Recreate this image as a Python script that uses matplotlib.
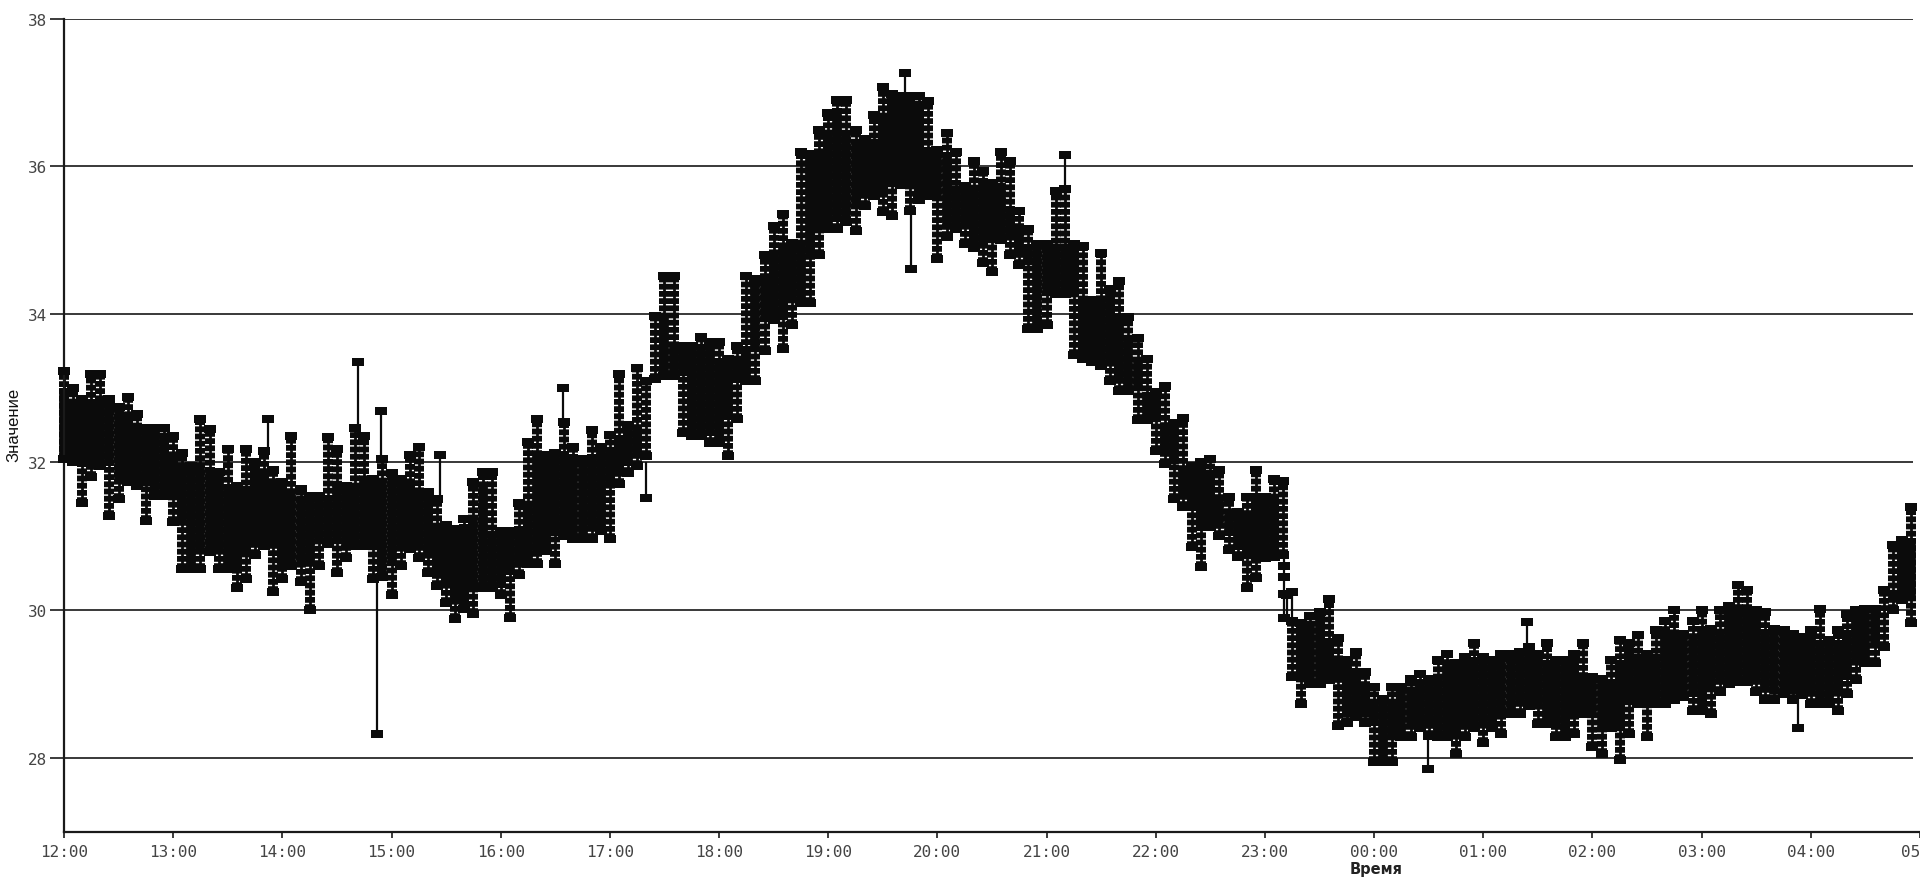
import matplotlib
matplotlib.use("Agg")
import matplotlib.pyplot as plt
from matplotlib.path import Path

hour_labels = ["12:00", "13:00", "14:00", "15:00", "16:00", "17:00", "18:00", "19:00", "20:00",
               "21:00", "22:00", "23:00", "00:00", "01:00", "02:00", "03:00", "04:00", "05"]
y_ticks = [28, 30, 32, 34, 36, 38]

# upper / lower edge of the dense trace, one pair per 5 minutes, one row per hour
upper = [
    33.24, 33.00, 32.85, 33.20, 33.20, 32.85, 32.75, 32.88, 32.65, 32.47, 32.47, 32.47,
    32.36, 32.13, 31.95, 32.58, 32.45, 31.87, 32.18, 31.68, 32.18, 32.00, 32.15, 31.90,
    31.73, 32.36, 31.64, 31.55, 31.55, 32.34, 32.18, 31.68, 32.47, 32.36, 31.77, 32.05,
    31.86, 31.77, 32.10, 32.20, 31.60, 31.50, 31.15, 31.10, 31.23, 31.73, 31.87, 31.87,
    31.07, 31.07, 31.45, 32.28, 32.58, 32.10, 32.13, 32.55, 32.20, 32.05, 32.43, 32.20,
    32.37, 33.19, 32.50, 33.28, 33.10, 33.98, 34.52, 34.52, 33.57, 33.57, 33.70, 33.62,
    33.62, 33.40, 33.57, 34.52, 34.48, 34.80, 35.20, 35.36, 34.97, 36.20, 36.17, 36.50,
    36.73, 36.90, 36.90, 36.50, 36.37, 36.70, 37.07, 36.98, 36.95, 36.96, 36.96, 36.88,
    36.22, 36.45, 36.20, 35.73, 36.07, 35.94, 35.78, 36.20, 36.07, 35.40, 35.16, 34.95,
    34.95, 35.67, 35.70, 34.95, 34.93, 34.20, 34.83, 34.35, 34.45, 33.97, 33.68, 33.40,
    32.95, 33.03, 32.53, 32.60, 31.95, 32.00, 32.05, 31.90, 31.53, 31.33, 31.53, 31.90,
    31.53, 31.77, 31.75, 29.85, 29.82, 29.92, 29.97, 30.15, 29.62, 29.32, 29.43, 29.16,
    28.96, 28.80, 28.96, 28.96, 29.07, 29.14, 29.07, 29.32, 29.41, 29.28, 29.37, 29.55,
    29.37, 29.32, 29.41, 29.41, 29.43, 29.50, 29.41, 29.55, 29.32, 29.32, 29.41, 29.55,
    29.10, 29.07, 29.32, 29.60, 29.55, 29.66, 29.41, 29.73, 29.86, 30.00, 29.68, 29.86,
    30.00, 29.75, 30.00, 30.05, 30.34, 30.27, 30.00, 29.98, 29.75, 29.73, 29.68, 29.64,
    29.73, 30.02, 29.60, 29.73, 29.95, 30.00, 30.02, 30.02, 30.27, 30.88, 30.95, 31.40,
]
lower = [
    32.05, 32.00, 31.45, 31.80, 31.95, 31.28, 31.50, 31.73, 31.68, 31.20, 31.55, 31.55,
    31.19, 30.55, 30.55, 30.55, 30.78, 30.55, 30.55, 30.30, 30.42, 30.74, 30.87, 30.24,
    30.42, 30.60, 30.38, 30.00, 30.60, 30.90, 30.50, 30.70, 30.87, 30.87, 30.42, 30.45,
    30.20, 30.60, 30.83, 30.70, 30.50, 30.33, 30.10, 29.88, 30.02, 29.95, 30.30, 30.30,
    30.20, 29.90, 30.47, 30.62, 30.62, 30.80, 30.62, 31.00, 30.96, 30.96, 30.96, 31.07,
    30.96, 31.70, 31.85, 31.95, 32.08, 33.12, 33.17, 33.17, 32.40, 32.35, 32.35, 32.26,
    32.26, 32.08, 32.58, 33.10, 33.10, 33.50, 33.92, 33.53, 33.85, 34.16, 34.16, 34.80,
    35.15, 35.15, 35.25, 35.13, 35.47, 35.60, 35.38, 35.33, 35.75, 35.40, 35.55, 35.60,
    34.75, 35.05, 35.16, 34.95, 34.90, 34.70, 34.57, 35.00, 34.80, 34.67, 33.80, 33.80,
    33.85, 34.27, 34.27, 33.45, 33.40, 33.35, 33.30, 33.10, 32.97, 32.97, 32.57, 32.57,
    32.15, 31.97, 31.50, 31.40, 30.85, 30.58, 31.12, 31.00, 30.82, 30.72, 30.30, 30.43,
    30.70, 30.72, 30.75, 29.10, 28.73, 29.00, 29.00, 29.05, 28.44, 28.47, 28.55, 28.47,
    27.94, 27.94, 27.94, 28.28, 28.28, 28.40, 28.30, 28.28, 28.28, 28.05, 28.28, 28.40,
    28.20, 28.40, 28.33, 28.60, 28.60, 28.70, 28.46, 28.46, 28.28, 28.28, 28.33, 28.60,
    28.15, 28.05, 28.40, 27.98, 28.33, 28.73, 28.28, 28.73, 28.73, 28.78, 28.82, 28.64,
    28.64, 28.60, 28.90, 29.00, 29.03, 29.03, 28.90, 28.78, 28.78, 28.87, 28.78, 28.85,
    28.73, 28.73, 28.73, 28.64, 28.87, 29.05, 29.28, 29.28, 29.50, 30.00, 30.14, 29.82,
]
sample_minutes = list(range(0, 1020, 5))

# isolated excursions: time (hours after 12:00), where the stem starts, where it ends
spike_hours = [2.69, 2.906, 2.863, 1.87, 3.44, 4.57, 7.70, 7.76, 9.17, 12.49, 15.88, 5.33,
               11.17, 11.17, 11.17, 11.17, 11.25, 11.20, 13.40]
spike_from = [32.40, 32.00, 30.45, 32.10, 31.50, 32.50, 36.90, 35.40, 35.60, 28.30, 28.85, 32.00,
              30.75, 30.60, 30.45, 30.22, 29.85, 29.85, 29.50]
spike_to = [33.35, 32.70, 28.33, 32.58, 32.10, 33.00, 37.26, 34.62, 36.15, 27.85, 28.40, 31.52,
            30.60, 30.45, 30.22, 29.90, 30.25, 30.20, 29.84]

fig = plt.figure(figsize=(19.2, 8.78), dpi=100)
ax = fig.add_axes([64 / 1920, 1 - 833 / 878, 1 - 64 / 1920, (833 - 19.6) / 878])
ax.set_xlim(0, 17.0)
ax.set_ylim(27, 38)

ax.hlines(y_ticks, 0, 16.94, color="#2a2a2a", lw=1.3, zorder=1)

ink = "#0b0b0b"
wide_mark = Path([(-0.5, -0.32), (0.5, -0.32), (0.5, 0.32), (-0.5, 0.32), (-0.5, -0.32)], closed=True)
hours = [m / 60 for m in sample_minutes]
n = len(hours)

# solid middle of the band: what the neighbouring columns share
core_hi = [sorted(upper[max(i - 1, 0):i + 2])[0] for i in range(n)]
core_lo = [sorted(lower[max(i - 1, 0):i + 2])[-1] for i in range(n)]
solid = [i for i in range(n) if core_hi[i] > core_lo[i]]
ax.vlines([hours[i] for i in solid], [core_lo[i] for i in solid], [core_hi[i] for i in solid],
          color=ink, lw=7.0, zorder=2, capstyle="butt", clip_on=False)
# beaded columns out to the read edges
ax.vlines(hours, lower, upper, color=ink, lw=2.0, zorder=2, capstyle="butt", clip_on=False)
ax.vlines(hours, lower, upper, color=ink, lw=7.2, zorder=2, capstyle="butt", clip_on=False,
          linestyle=(0, (0.58, 0.14)))

for edge in (upper, lower):
    ax.plot(hours, edge, ls="none", marker=wide_mark, ms=8.4, mfc=ink, mec=ink, mew=0, zorder=3, clip_on=False)
ax.vlines(spike_hours, spike_from, spike_to, color=ink, lw=1.6, zorder=2)
ax.plot(spike_hours, spike_to, ls="none", marker=wide_mark, ms=8.4, mfc=ink, mec=ink, mew=0, zorder=3)

for side in ("top", "right"):
    ax.spines[side].set_visible(False)
for side in ("left", "bottom"):
    ax.spines[side].set_linewidth(1.6)
    ax.spines[side].set_color("#1a1a1a")

ax.set_xticks(range(len(hour_labels)))
ax.set_xticklabels(hour_labels, family="DejaVu Sans Mono", fontsize=11.5, color="#444444")
ax.get_xticklabels()[-1].set_ha("right")
ax.set_yticks(y_ticks)
ax.set_yticklabels([str(v) for v in y_ticks], family="DejaVu Sans Mono", fontsize=11.5, color="#444444")
ax.tick_params(axis="x", length=4, width=1.2, pad=5, color="#1a1a1a")
ax.tick_params(axis="y", length=10, width=1.2, pad=2, color="#1a1a1a")

fig.text(14 / 1920, 1 - 425 / 878, "Значение", rotation=90, ha="center", va="center",
         family="Liberation Sans", fontsize=12, color="#111111")
fig.text(1376 / 1920, 1 - 870 / 878, "Время", ha="center", va="center",
         family="DejaVu Sans", fontsize=10.5, fontweight="bold", color="#222222")

fig.savefig("out.png", dpi=100)
